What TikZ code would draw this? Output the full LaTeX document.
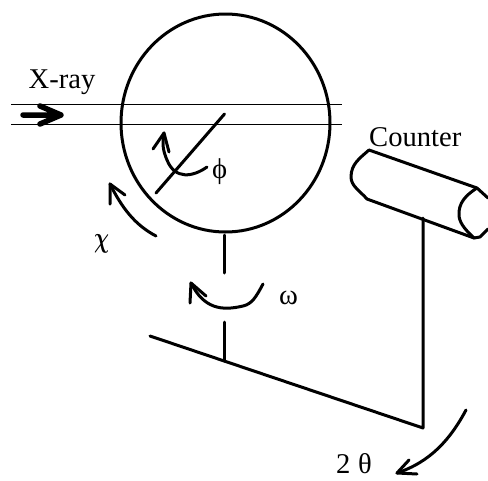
\documentclass[tikz,border=0pt]{standalone}
\usepackage{fontspec}
\setmainfont{Liberation Serif}
\font\chifont=cmmib10 at 29pt
\begin{document}
\begin{tikzpicture}[x=1pt,y=-1pt,
  ink/.style={line width=3pt,line cap=round,line join=round},
  beam/.style={line width=1.2pt},
  fat/.style={line width=5.5pt,line cap=round,line join=round},
  lbl/.style={inner sep=0pt,font=\fontsize{28.6}{30}\selectfont,anchor=base west}]
\useasboundingbox (0,0) rectangle (488,480);
% labels
\node[lbl] (xray) at (28.5,88.5) {X-ray};
\node[lbl] (counter) at (369,146.5) {Counter};
\node[lbl] (phi) at (212,178) {ϕ};
\node[lbl,xscale=0.72] (chi) at (94,247.5) {\chifont\char"1F};
\node[lbl] (omega) at (279,304) {ω};
\node[lbl] (two) at (336,473.5) {2};
\node[lbl] (theta) at (358,473.5) {θ};
% beam
\coordinate (b1a) at (11,104.5); \coordinate (b1b) at (342,104.5);
\coordinate (b2a) at (11,124.5); \coordinate (b2b) at (342,124.5);
\draw[beam] (b1a) -- (b1b);
\draw[beam] (b2a) -- (b2b);
\coordinate (x0) at (23,115); \coordinate (x1) at (61,115);
\coordinate (x2) at (40,106); \coordinate (x3) at (40,124);
\draw[fat] (x0) -- (x1) (x2) -- (x1) -- (x3);
% crystal circle
\draw[ink] (225.5,123) ellipse [x radius=104.5,y radius=109];
% phi axis
\coordinate (p0) at (156,193); \coordinate (p1) at (224.5,114);
\draw[ink] (p0) -- (p1);
\coordinate (pa) at (207,167); \coordinate (pb) at (164,133);
\draw[ink] (pa) .. controls (193,177) and (175,180) .. (167,160) .. controls (163,151) and (162,143) .. (pb);
\draw[ink] (153,149) -- (pb) -- (169,152);
% chi
\coordinate (ca) at (156,236); \coordinate (cb) at (110,184);
\draw[ink] (ca) .. controls (135,225) and (122,208) .. (cb);
\draw[ink] (110,204) -- (cb) -- (125,195);
% omega axis
\coordinate (o0) at (224,235); \coordinate (o1) at (224,273);
\coordinate (o2) at (224,322); \coordinate (o3) at (224,361);
\draw[ink] (o0) -- (o1);
\draw[ink] (o2) -- (o3);
% omega arrow
\coordinate (wa) at (263,284); \coordinate (wb) at (191,283);
\draw[ink] (wa) .. controls (256,297) and (252,304) .. (243,306) .. controls (222,311) and (204,309) .. (wb);
\draw[ink] (190,303) -- (wb) -- (206,296);
% arm
\coordinate (a0) at (150,336); \coordinate (a1) at (423,428);
\coordinate (a2) at (423,218);
\draw[ink] (a0) -- (a1) -- (a2);
% counter
\coordinate (c1) at (369,150); \coordinate (c2) at (477,188);
\coordinate (c3) at (367,199); \coordinate (c4) at (474,238);
\draw[ink] (c1) -- (c2);
\draw[ink] (c3) -- (c4);
\draw[ink] (c1) .. controls (360,158) and (351,164) .. (351,177) .. controls (351,186) and (360,191) .. (c3);
\draw[ink] (c2) .. controls (466,195) and (458,203) .. (459,216) .. controls (460,225) and (468,232) .. (c4);
\draw[ink] (c2) -- (488,198);
\draw[ink] (c4) -- (480,237) -- (488,229);
% 2 theta arrow
\coordinate (ta) at (466,410); \coordinate (tb) at (397,473);
\draw[ink] (ta) .. controls (450,440) and (430,462) .. (tb);
\draw[ink] (409,460) -- (tb) -- (417,474);
\end{tikzpicture}
\end{document}
